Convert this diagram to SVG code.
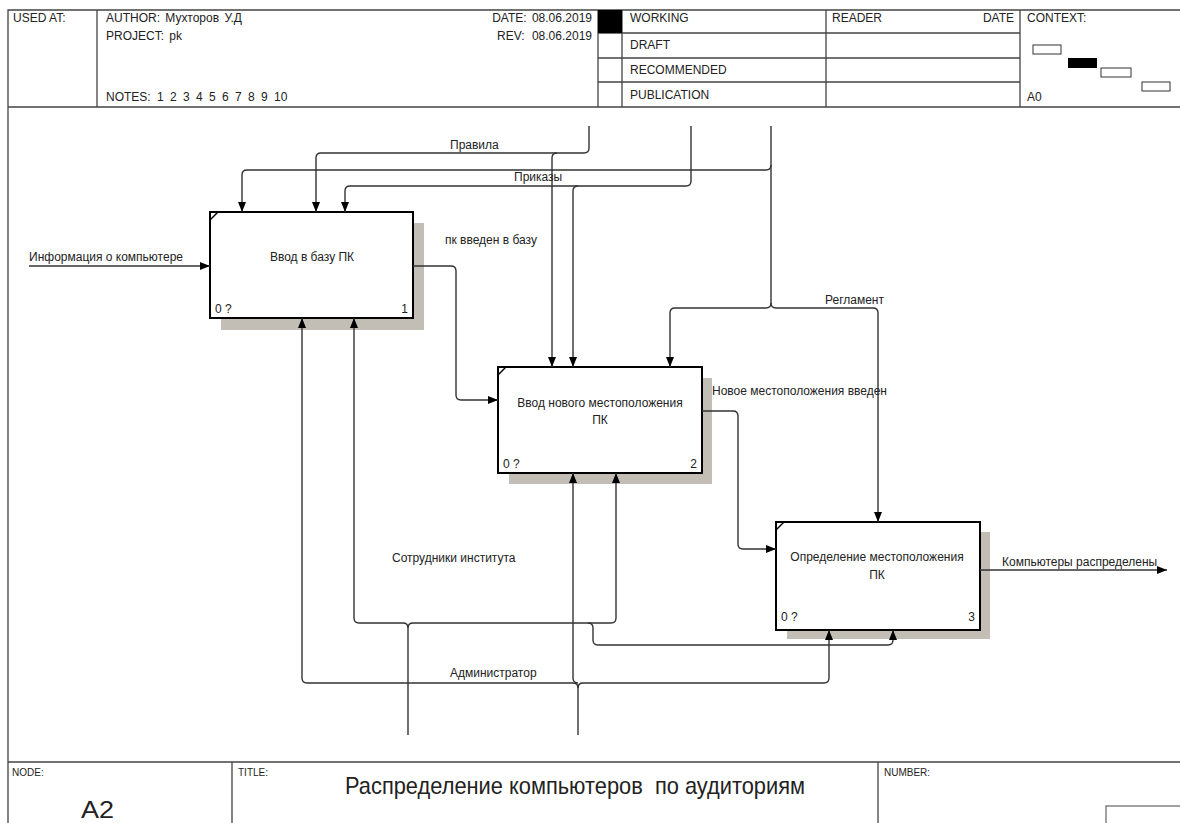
<svg xmlns="http://www.w3.org/2000/svg" width="1180" height="823" viewBox="0 0 1180 823">
<style>
text{font-family:"Liberation Sans",Arial,sans-serif;fill:#222}
.h{font-size:12px}
.f{font-size:10px}
.lbl{font-size:12px}
.frame{fill:none;stroke:#444;stroke-width:1.3}
.box{fill:#fff;stroke:#000;stroke-width:2}
.sh{fill:#c2beb6}
.c{fill:none;stroke:#333;stroke-width:1.4}
</style>
<defs>
<marker id="ah" viewBox="0 0 10 10" refX="10" refY="5" markerWidth="10" markerHeight="10" markerUnits="userSpaceOnUse" orient="auto">
<path d="M0,1 L10,5 L0,9 Z" fill="#000"/>
</marker>
</defs>
<rect width="1180" height="823" fill="#fff"/>
<g id="header">
<path class="frame" d="M1180,10 H8 V823 M8,107 H1180 M97,10 V107 M598,10 V107 M622,10 V107 M826,10 V107 M1020,10 V107 M598,33 H1020 M598,58 H1020 M598,82 H1020"/>
<rect x="598" y="10" width="24" height="23" fill="#000"/>
<text class="h" x="13" y="22">USED AT:</text>
<text class="h" x="106" y="22" style="word-spacing:2px">AUTHOR: Мухторов У.Д</text>
<text class="h" x="106" y="40" style="word-spacing:2px">PROJECT: pk</text>
<text class="h" x="106" y="101" style="word-spacing:3px">NOTES: 1 2 3 4 5 6 7 8 9 10</text>
<text class="h" x="592" y="22" text-anchor="end" style="word-spacing:2px">DATE: 08.06.2019</text>
<text class="h" x="497" y="40">REV:</text>
<text class="h" x="592" y="40" text-anchor="end">08.06.2019</text>
<text class="h" x="630" y="22">WORKING</text>
<text class="h" x="630" y="49">DRAFT</text>
<text class="h" x="630" y="74">RECOMMENDED</text>
<text class="h" x="630" y="99">PUBLICATION</text>
<text class="h" x="832" y="22">READER</text>
<text class="h" x="1014" y="22" text-anchor="end">DATE</text>
<text class="h" x="1027" y="22">CONTEXT:</text>
<text class="h" x="1027" y="101">A0</text>
<rect x="1033" y="45" width="28" height="9" fill="#fff" stroke="#333" stroke-width="1"/>
<rect x="1068" y="58" width="29" height="10" fill="#000"/>
<rect x="1101" y="68" width="30" height="9" fill="#fff" stroke="#333" stroke-width="1"/>
<rect x="1142" y="82" width="28" height="9" fill="#fff" stroke="#333" stroke-width="1"/>
</g>
<g id="footer">
<path class="frame" d="M8,762 H1180 M232,762 V823 M878,762 V823"/>
<rect x="1106" y="806" width="80" height="30" fill="none" stroke="#444" stroke-width="1"/>
<text class="f" x="12" y="776">NODE:</text>
<text class="f" x="238" y="776">TITLE:</text>
<text class="f" x="884" y="776">NUMBER:</text>
<text x="345" y="794" xml:space="preserve" textLength="460" lengthAdjust="spacingAndGlyphs" style="font-size:24px;white-space:pre">Распределение компьютеров  по аудиториям</text>
<text x="81" y="818" textLength="33" lengthAdjust="spacingAndGlyphs" style="font-size:23px">A2</text>
</g>
<g id="box1">
<rect class="sh" x="221" y="223" width="203" height="107"/>
<rect class="box" x="210" y="212" width="203" height="106"/>
<path d="M210,220 L218,212" stroke="#000" stroke-width="1.5"/>
<text class="lbl" x="312" y="261" text-anchor="middle">Ввод в базу ПК</text>
<text class="lbl" x="215" y="313">0 ?</text>
<text class="lbl" x="408" y="313" text-anchor="end">1</text>
</g>
<g id="box2">
<rect class="sh" x="509" y="378" width="203" height="106"/>
<rect class="box" x="498" y="367" width="204" height="106"/>
<path d="M498,375 L506,367" stroke="#000" stroke-width="1.5"/>
<text class="lbl" x="600" y="407" text-anchor="middle">Ввод нового местоположения</text>
<text class="lbl" x="600" y="424" text-anchor="middle">ПК</text>
<text class="lbl" x="503" y="468">0 ?</text>
<text class="lbl" x="697" y="468" text-anchor="end">2</text>
</g>
<g id="box3">
<rect class="sh" x="787" y="532" width="203" height="107"/>
<rect class="box" x="776" y="522" width="204" height="108"/>
<path d="M776,530 L784,522" stroke="#000" stroke-width="1.5"/>
<text class="lbl" x="877" y="561" text-anchor="middle">Определение местоположения</text>
<text class="lbl" x="877" y="579" text-anchor="middle">ПК</text>
<text class="lbl" x="781" y="621">0 ?</text>
<text class="lbl" x="975" y="621" text-anchor="end">3</text>
</g>
<g id="connectors">
<path class="c" marker-end="url(#ah)" d="M29,266 H210"/>
<path class="c" marker-end="url(#ah)" d="M413,266 H451 Q456,266 456,271 V395 Q456,400 461,400 H498"/>
<path class="c" marker-end="url(#ah)" d="M702,411 H733 Q738,411 738,416 V544 Q738,549 743,549 H776"/>
<path class="c" marker-end="url(#ah)" d="M980,570 H1167"/>
<path class="c" marker-end="url(#ah)" d="M589,126 V148 Q589,153 584,153 H321 Q316,153 316,158 V212"/>
<path class="c" marker-end="url(#ah)" d="M557,153 Q552,153 552,158 V367"/>
<path class="c" marker-end="url(#ah)" d="M691,126 V181 Q691,186 686,186 H350 Q345,186 345,191 V212"/>
<path class="c" marker-end="url(#ah)" d="M578,186 Q573,186 573,191 V367"/>
<path class="c" d="M771,126 V303"/>
<path class="c" marker-end="url(#ah)" d="M771,165 Q771,170 766,170 H247 Q242,170 242,175 V212"/>
<path class="c" marker-end="url(#ah)" d="M771,303 Q771,308 766,308 H675 Q670,308 670,313 V367"/>
<path class="c" marker-end="url(#ah)" d="M771,303 Q771,308 776,308 H873 Q878,308 878,313 V522"/>
<path class="c" d="M408,735 V628"/>
<path class="c" marker-end="url(#ah)" d="M408,628 Q408,623 403,623 H359 Q354,623 354,618 V318"/>
<path class="c" marker-end="url(#ah)" d="M408,628 Q408,623 413,623 H611 Q616,623 616,618 V473"/>
<path class="c" marker-end="url(#ah)" d="M588,623 Q593,623 593,628 V640 Q593,645 598,645 H888 Q893,645 893,640 V630"/>
<path class="c" d="M578,735 V688"/>
<path class="c" marker-end="url(#ah)" d="M578,688 Q578,683 573,683 H307 Q302,683 302,678 V318"/>
<path class="c" marker-end="url(#ah)" d="M578,688 Q578,683 583,683 H824 Q829,683 829,678 V630"/>
<path class="c" marker-end="url(#ah)" d="M578,683 Q573,683 573,678 V473"/>
<text class="lbl" x="450" y="149">Правила</text>
<text class="lbl" x="514" y="181">Приказы</text>
<text class="lbl" x="825" y="304">Регламент</text>
<text class="lbl" x="29" y="261">Информация о компьютере</text>
<text class="lbl" x="445" y="244">пк введен в базу</text>
<text class="lbl" x="712" y="395">Новое местоположения введен</text>
<text class="lbl" x="1002" y="566">Компьютеры распределены</text>
<text class="lbl" x="392" y="562">Сотрудники института</text>
<text class="lbl" x="450" y="677">Администратор</text>
</g>
</svg>
